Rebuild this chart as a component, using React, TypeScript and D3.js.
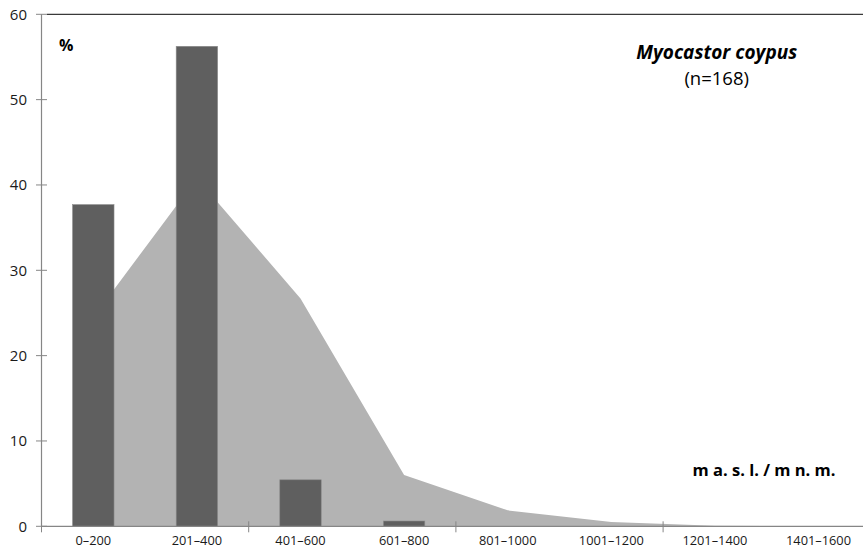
import React from "react";
import * as d3 from "d3";

const categories = ["0–200", "201–400", "401–600", "601–800", "801–1000", "1001–1200", "1201–1400", "1401–1600"];
const barValues = [37.7, 56.25, 5.45, 0.62, 0, 0, 0, 0];
const areaValues = [24.5, 40.8, 26.7, 6.0, 1.87, 0.5, 0.05, 0];
const yTicks = [0, 10, 20, 30, 40, 50, 60];

const W = 863;
const H = 548;
const left = 41.5;
const right = 870.3;
const top = 14.3;
const bottom = 526.3;

export default function App() {
  const x = d3.scaleBand<string>().domain(categories).range([left, right]).paddingInner(0.6).paddingOuter(0.3);
  const step = x.step();
  const y = d3.scaleLinear().domain([0, 60]).range([bottom, top]);
  const cx = (c: string) => (x(c) as number) + x.bandwidth() / 2;

  const area = d3
    .area<number>()
    .x((_, i) => cx(categories[i]))
    .y0(y(0))
    .y1((d) => y(d));

  const edgeTicks = categories.map((_, i) => left + step * i).concat([right]).filter((_, i) => i % 2 === 0);
  const font = "'Open Sans', 'Noto Sans', sans-serif";
  const axisColor = "#868686";

  return (
    <svg width={W} height={H} style={{ position: "absolute", left: 0, top: 0, background: "#fff" }} fontFamily={font}>
      <path d={area(areaValues) || ""} fill="#b3b3b3" />
      {categories.map((c, i) =>
        barValues[i] > 0 ? (
          <rect
            key={c}
            x={x(c)}
            y={y(barValues[i])}
            width={x.bandwidth()}
            height={y(0) - y(barValues[i])}
            fill="#5f5f5f"
            stroke="#8c8c8c"
            strokeWidth={0.6}
          />
        ) : null
      )}
      {/* top border */}
      <line x1={47} x2={W} y1={top} y2={top} stroke="#3a3a3a" strokeWidth={1.2} />
      {/* y axis */}
      <line x1={left} x2={left} y1={top} y2={bottom} stroke={axisColor} strokeWidth={1.2} />
      {yTicks.map((t) => (
        <g key={t}>
          <line x1={36} x2={47} y1={y(t)} y2={y(t)} stroke={axisColor} strokeWidth={1} />
          <text x={27} y={y(t)} dy="0.36em" textAnchor="end" fontSize={15} fill="#1a1a1a">
            {t}
          </text>
        </g>
      ))}
      {/* x axis */}
      <line x1={left} x2={right} y1={bottom} y2={bottom} stroke={axisColor} strokeWidth={1.2} />
      {edgeTicks.map((t, i) => (
        <line key={i} x1={t} x2={t} y1={bottom - 5} y2={bottom + 6} stroke={axisColor} strokeWidth={1} />
      ))}
      {categories.map((c) => (
        <text key={c} x={cx(c)} y={544.6} textAnchor="middle" fontSize={12.8} fill="#1a1a1a">
          {c}
        </text>
      ))}
      <text x={59} y={50.5} fontSize={16} fontWeight="bold" fill="#000">
        %
      </text>
      <text x={716.7} y={58.5} textAnchor="middle" fontSize={19} fontWeight="bold" fontStyle="italic" fill="#000">
        Myocastor coypus
      </text>
      <text x={716.7} y={84.5} textAnchor="middle" fontSize={18.5} fill="#000">
        (n=168)
      </text>
      <text x={764} y={475.5} textAnchor="middle" fontSize={16.5} fontWeight="bold" fill="#000">
        m a. s. l. / m n. m.
      </text>
    </svg>
  );
}
